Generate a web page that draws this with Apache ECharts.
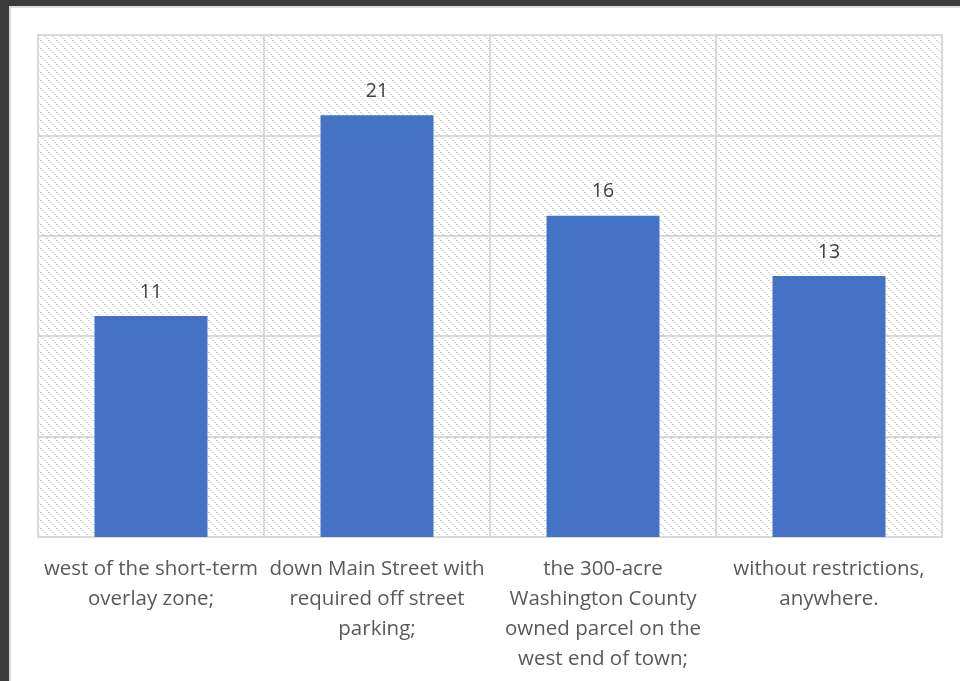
<!DOCTYPE html>
<html>
<head>
<meta charset="utf-8">
<script src="https://cdn.jsdelivr.net/npm/echarts@6/dist/echarts.min.js"></script>
<style>
  html, body { margin: 0; padding: 0; background: #fff; }
  #chart { width: 960px; height: 681px; }
</style>
</head>
<body>
<div id="chart"></div>
<script>
// data
const categories = [
  "west of the short-term\noverlay zone;",
  "down Main Street with\nrequired off street\nparking;",
  "the 300-acre\nWashington County\nowned parcel on the\nwest end of town;",
  "without restrictions,\nanywhere."
];
const counts = [11, 21, 16, 13];
const axisMin = 0, axisMax = 25, axisStep = 5;

// sparse dotted diagonal hatch, like the office "wide downward diagonal" fill
function hatchTile() {
  const c = document.createElement("canvas");
  c.width = 8; c.height = 8;
  const g = c.getContext("2d");
  g.fillStyle = "#ffffff";
  g.fillRect(0, 0, 8, 8);
  g.fillStyle = "#d2d2d2";
  for (let y = 0; y < 8; y++) {
    for (let x = 0; x < 8; x++) {
      const d = ((x - y) % 8 + 8) % 8;
      if ((d === 0 && x % 2 === 0) || (d === 1 && x % 2 === 1)) g.fillRect(x, y, 1, 1);
    }
  }
  return c;
}

const chart = echarts.init(document.getElementById("chart"));
const option = {
  backgroundColor: "#ffffff",
  animation: false,
  graphic: [
    { type: "rect", shape: { x: 0, y: 0, width: 960, height: 6 }, style: { fill: "#3b3b3b" } },
    { type: "rect", shape: { x: 0, y: 0, width: 9, height: 681 }, style: { fill: "#3b3b3b" } },
    { type: "rect", shape: { x: 9, y: 6, width: 951, height: 2 }, style: { fill: "#dcdcdc" } },
    { type: "rect", shape: { x: 9, y: 6, width: 2, height: 675 }, style: { fill: "#dcdcdc" } }
  ],
  grid: {
    left: 38,
    right: 18,
    top: 35,
    bottom: 144,
    show: true,
    backgroundColor: { image: hatchTile(), repeat: "repeat" },
    borderColor: "#d9d9d9",
    borderWidth: 2
  },
  xAxis: {
    type: "category",
    data: categories,
    axisLine: { show: false },
    axisTick: { show: false },
    splitLine: { show: true, lineStyle: { color: "#d9d9d9", width: 2 } },
    axisLabel: {
      interval: 0,
      margin: 17,
      color: "#595959",
      fontFamily: "Open Sans, Noto Sans, sans-serif",
      fontSize: 20.5,
      lineHeight: 30
    }
  },
  yAxis: {
    type: "value",
    min: axisMin,
    max: axisMax,
    interval: axisStep,
    axisLine: { show: false },
    axisTick: { show: false },
    axisLabel: { show: false },
    splitLine: { show: true, lineStyle: { color: "#d9d9d9", width: 2 } }
  },
  series: [
    {
      type: "bar",
      data: counts,
      barWidth: "50%",
      itemStyle: { color: "#4472c4" },
      label: {
        show: true,
        position: "top",
        distance: 14,
        color: "#404040",
        fontFamily: "Open Sans, Noto Sans, sans-serif",
        fontSize: 19.5
      }
    }
  ]
};
chart.setOption(option);
</script>
</body>
</html>
